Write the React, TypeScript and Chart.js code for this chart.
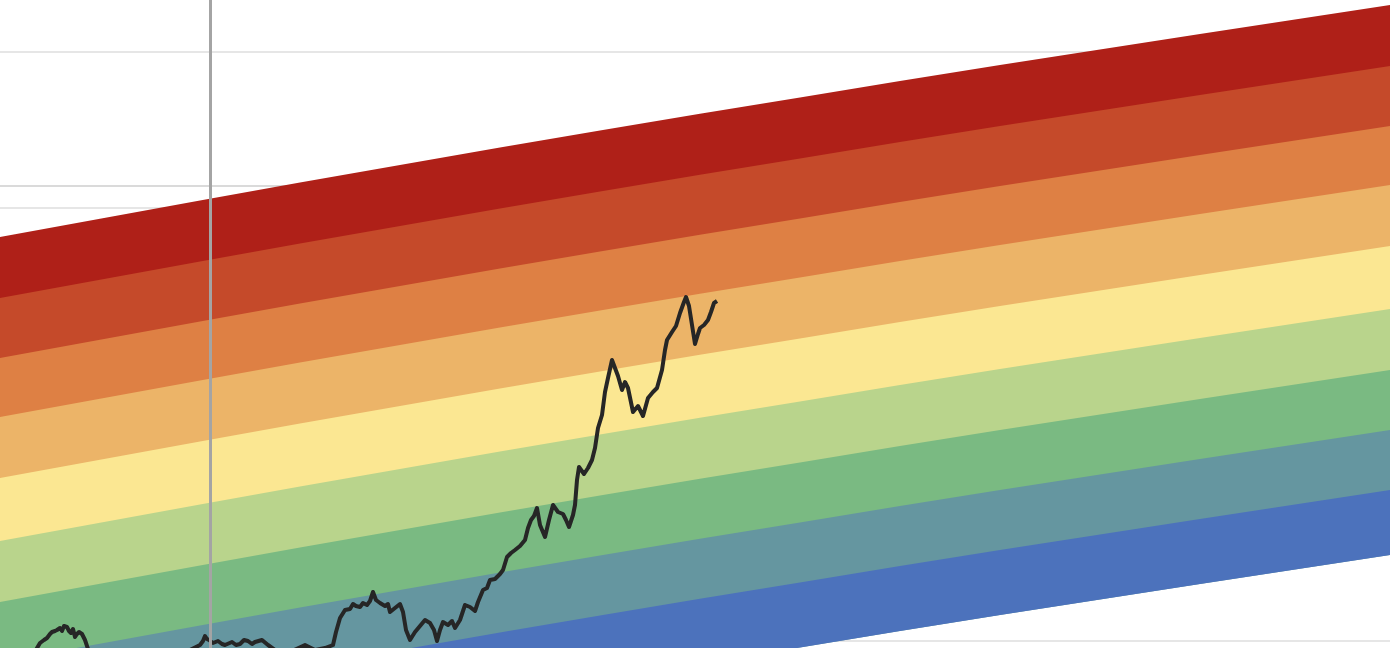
import React, { useEffect, useRef } from "react";
import { Chart, registerables } from "chart.js";

Chart.register(...registerables);

// Horizontal positions (time units) at which the top rainbow edge is read
const bandX = [0, 200, 400, 600, 800, 1000, 1200, 1390];
// Level of the top edge of the rainbow at those positions
const topEdge = [411, 447.5, 483, 517.5, 550.5, 583, 614, 643];
// Depth of each band boundary below the top edge
const bandDepths = [0, 61, 121, 180, 241, 304, 365, 425, 485, 550];
const bandColors = [
  "#AF2018",
  "#C54A2A",
  "#DE8044",
  "#ECB468",
  "#FBE792",
  "#B9D48C",
  "#7ABA82",
  "#6596A0",
  "#4C72BC",
];

// Price series: time position and level
const priceX = [
  30, 40, 44, 47, 50, 52, 55, 57, 60, 62, 64, 67, 69, 71, 73, 75, 77, 79, 82, 85, 89, 120, 170,
  200, 203, 205, 207, 209, 213, 218, 222, 225, 232, 236, 240, 244, 248, 252, 255, 262, 268,
  275, 290, 305, 315, 325, 333, 336, 340, 345, 350, 353, 356, 360, 363, 367, 370, 373, 376,
  380, 385, 388, 390, 395, 400, 403, 406, 410, 415, 420, 425, 430, 434, 437, 440, 443, 448,
  452, 455, 460, 465, 470, 475, 478, 483, 487, 490, 495, 500, 503, 507, 511, 515, 520, 525,
  528, 531, 534, 537, 540, 545, 549, 553, 558, 563, 566, 569, 573, 575, 577, 579, 584, 588,
  592, 595, 598, 602, 605, 608, 612, 615, 618, 622, 625, 628, 633, 638, 643, 648, 653, 657,
  662, 665, 667, 672, 676, 680, 684, 686, 689, 692, 695, 698, 700, 704, 708, 711, 714, 717,
];
const pricePx = [
  660, 643, 640, 638, 634, 632, 631, 630, 628, 631, 626, 627, 631, 633, 629, 637, 634, 632, 634,
  640, 652, 665, 660, 645, 641, 636, 639, 640, 643, 641, 644, 645, 642, 645, 644, 640, 641, 644,
  642, 640, 645, 650, 652, 645, 650, 648, 645, 632, 618, 610, 609, 604, 606, 607, 603, 605,
  601, 592, 600, 603, 606, 604, 612, 608, 604, 612, 630, 640, 632, 626, 620, 623, 630, 641,
  630, 622, 625, 621, 628, 620, 605, 607, 611, 602, 590, 588, 580, 579, 574, 570, 557, 553,
  550, 546, 540, 528, 520, 516, 508, 525, 537, 520, 505, 512, 514, 520, 527, 515, 505, 480,
  467, 474, 468, 460, 448, 428, 415, 392, 378, 360, 368, 376, 390, 382, 388, 412, 406, 416,
  398, 392, 388, 370, 350, 340, 332, 326, 313, 302, 297, 306, 325, 344, 334, 328, 325, 320,
  312, 303, 301,
];
const priceLevels = pricePx.map((p) => 648 - p);

// Grid levels
const yGridLevels = [596, 462, 440, 7];
const xGridPositions = [210];

export default function App() {
  const ref = useRef<HTMLCanvasElement>(null);

  useEffect(() => {
    document.body.style.margin = "0";
    const canvas = ref.current;
    if (!canvas) return;

    const boundaries = bandDepths.map((d) =>
      bandX.map((x, i) => ({ x, y: topEdge[i] - d }))
    );

    const bandSets: any[] = boundaries.map((data, j) => {
      const isFillable = j < bandColors.length;
      const target = Math.min(j + 2, bandDepths.length - 1);
      return {
        label: "b" + j,
        data,
        borderWidth: 0,
        pointRadius: 0,
        cubicInterpolationMode: "monotone",
        backgroundColor: isFillable ? bandColors[j] : "rgba(0,0,0,0)",
        fill: isFillable ? target : false,
        order: 100 - j,
      };
    });

    const priceSet = {
      label: "price",
      data: priceX.map((x, i) => ({ x, y: priceLevels[i] })),
      borderColor: "#262626",
      borderWidth: 4,
      pointRadius: 0,
      tension: 0,
      fill: false,
      borderJoinStyle: "round",
      order: 0,
    };

    const chart = new Chart(canvas, {
      type: "line",
      data: { datasets: [...bandSets, priceSet] },
      options: {
        animation: false,
        responsive: false,
        devicePixelRatio: 1,
        layout: { padding: 0 },
        plugins: {
          legend: { display: false },
          tooltip: { enabled: false },
        },
        scales: {
          x: {
            type: "linear",
            min: 0,
            max: 1390,
            afterBuildTicks: (axis: any) => {
              axis.ticks = xGridPositions.map((v) => ({ value: v }));
            },
            ticks: { display: false },
            border: { display: false },
            grid: {
              drawTicks: false,
              color: "#a4a4a4",
              lineWidth: 3,
              z: 1,
            },
          },
          y: {
            type: "linear",
            min: 0,
            max: 648,
            afterBuildTicks: (axis: any) => {
              axis.ticks = yGridLevels.map((v) => ({ value: v }));
            },
            ticks: { display: false },
            border: { display: false },
            grid: {
              drawTicks: false,
              color: (ctx: any) =>
                ctx.tick && ctx.tick.value === 462 ? "#dadada" : "#e6e6e6",
              lineWidth: 2,
            },
          },
        },
      } as any,
    });

    return () => chart.destroy();
  }, []);

  return (
    <canvas
      ref={ref}
      width={1390}
      height={648}
      style={{ display: "block", width: 1390, height: 648 }}
    />
  );
}
